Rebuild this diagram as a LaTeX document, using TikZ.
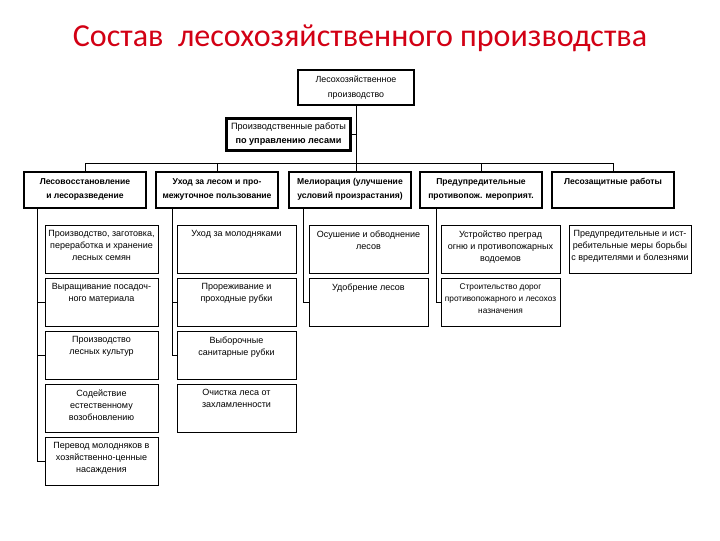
\documentclass[tikz,border=0pt]{standalone}
\usepackage{fontspec}
\setmainfont{Liberation Sans}
\newfontfamily\titlefont{Carlito}
\usetikzlibrary{shadows}
\definecolor{titlered}{RGB}{210,0,20}

\begin{document}
\begin{tikzpicture}[x=0.025cm, y=-0.025cm,
    head/.style={draw, line width=1.9pt, align=center, font=\fontsize{6.3}{11}\selectfont, fill=white},
    cat/.style={draw, line width=1.3pt, minimum width=3.05cm, minimum height=0.9cm, fill=white,
                drop shadow={shadow xshift=0.8pt, shadow yshift=-0.8pt, fill=black!45}},
    sub/.style={draw, line width=0.6pt, minimum width=2.975cm, minimum height=1.2cm, fill=white,
                drop shadow={shadow xshift=0.8pt, shadow yshift=-0.8pt, fill=black!35}},
    txt/.style={align=center, anchor=north, inner sep=1pt, yshift=-3pt, font=\fontsize{6.4}{8.6}\selectfont},
    ctxt/.style={align=center, anchor=north, inner sep=1pt, yshift=-4pt, font=\fontsize{6.1}{10}\selectfont\bfseries},
    line/.style={line width=0.6pt}
]
\useasboundingbox (0,0) rectangle (720,540);

% title
\node[text=titlered, font=\titlefont\fontsize{22.8}{26}\selectfont] (title) at (360,38)
    {Состав\ \ лесохозяйственного производства};

% top of the tree
\node[head, minimum width=2.9cm, minimum height=0.875cm] (top) at (356,87.5)
    {Лесохозяйственное\\производство};
\node[head, minimum width=3.075cm, minimum height=0.775cm, font=\fontsize{6.5}{10}\selectfont] (mgr) at (288.5,134.5)
    {Производственные работы\\\textbf{по управлению лесами}};

% kinds of work
\node[cat, label={[ctxt]north:Лесовосстановление\\и лесоразведение}] (c1) at (85,190) {};
\node[cat, label={[ctxt]north:Уход за лесом и про-\\межуточное пользование}] (c2) at (217,190) {};
\node[cat, label={[ctxt]north:Мелиорация (улучшение\\условий произрастания)}] (c3) at (350,190) {};
\node[cat, label={[ctxt]north:Предупредительные\\противопож. мероприят.}] (c4) at (481,190) {};
\node[cat, label={[ctxt]north:Лесозащитные работы}] (c5) at (613,190) {};

% column 1
\node[sub, minimum width=2.825cm, label={[txt]north:Производство, заготовка,\\переработка и хранение\\лесных семян}] (s11) at (101.5,249) {};
\node[sub, minimum width=2.825cm, label={[txt]north:Выращивание посадоч-\\ного материала}] (s12) at (101.5,302) {};
\node[sub, minimum width=2.825cm, label={[txt]north:Производство\\лесных культур}] (s13) at (101.5,355) {};
\node[sub, minimum width=2.825cm, label={[txt]north:Содействие\\естественному\\возобновлению}] (s14) at (101.5,408) {};
\node[sub, minimum width=2.825cm, label={[txt]north:Перевод молодняков в\\хозяйственно-ценные\\насаждения}] (s15) at (101.5,461) {};

% column 2
\node[sub, label={[txt]north:Уход за молодняками}] (s21) at (236.5,249) {};
\node[sub, label={[txt]north:Прореживание и\\проходные рубки}] (s22) at (236.5,302) {};
\node[sub, label={[txt]north:Выборочные\\санитарные рубки}] (s23) at (236.5,355) {};
\node[sub, label={[txt]north:Очистка леса от\\захламленности}] (s24) at (236.5,408) {};

% column 3
\node[sub, label={[txt]north:Осушение и обводнение\\лесов}] (s31) at (368.5,249) {};
\node[sub, label={[txt]north:Удобрение лесов}] (s32) at (368.5,302) {};

% column 4
\node[sub, label={[txt]north:Устройство преград\\огню и противопожарных\\водоемов}] (s41) at (500.5,249) {};
\node[sub, label={[txt, font=\fontsize{5.9}{8.6}\selectfont]north:Строительство дорог\\противопожарного и лесохоз\\назначения}] (s42) at (500.5,302) {};

% column 5
\node[sub, minimum width=3.05cm, label={[txt]north:Предупредительные и ист-\\ребительные меры борьбы\\с вредителями и болезнями}] (s51) at (630,249) {};

% connectors
\coordinate (bus) at (0,163);
\coordinate (l1) at (37,0);
\coordinate (l2) at (172,0);
\coordinate (l3) at (303,0);
\coordinate (l4) at (436,0);

\draw[line] (top.south) -- (top.south |- c3.north);
\draw[line] (mgr.east) -- (mgr.east -| top.south);
\draw[line] (c1.north |- bus) -- (c5.north |- bus);
\draw[line] (c1.north |- bus) -- (c1.north);
\draw[line] (c2.north |- bus) -- (c2.north);
\draw[line] (c4.north |- bus) -- (c4.north);
\draw[line] (c5.north |- bus) -- (c5.north);

\draw[line] (c1.south -| l1) |- (s15.west);
\draw[line] (l1 |- s12.west) -- (s12.west);
\draw[line] (l1 |- s13.west) -- (s13.west);
\draw[line] (c2.south -| l2) |- (s23.west);
\draw[line] (l2 |- s22.west) -- (s22.west);
\draw[line] (c3.south -| l3) |- (s32.west);
\draw[line] (c4.south -| l4) |- (s42.west);
\end{tikzpicture}
\end{document}
